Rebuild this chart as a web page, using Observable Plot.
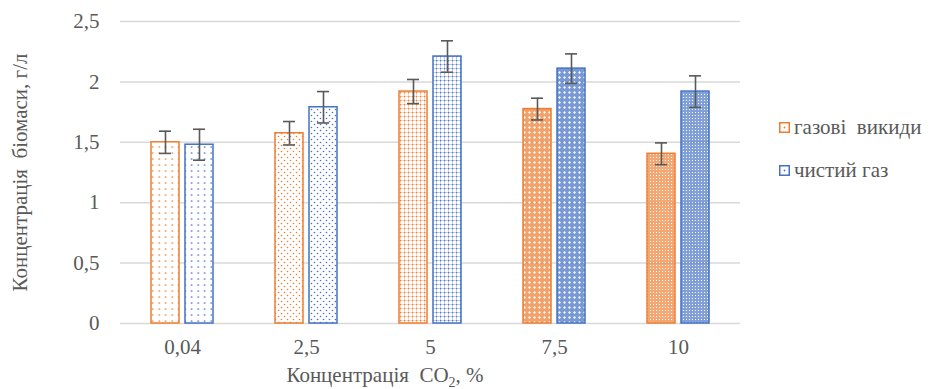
<!DOCTYPE html>
<html>
<head>
<meta charset="utf-8">
<script src="https://cdn.jsdelivr.net/npm/d3@7"></script>
<script src="https://cdn.jsdelivr.net/npm/@observablehq/plot@0.6"></script>
<style>
  html, body { margin: 0; padding: 0; background: #fff; }
  #wrap { position: relative; width: 930px; height: 389px; font-family: "Liberation Serif", "DejaVu Serif", serif; color: #595959; }
  #chart { position: absolute; left: 0; top: 0; }
  .leg { position: absolute; left: 779px; font-size: 21px; line-height: 1; display: flex; align-items: center; white-space: pre; }
  .leg svg { margin-right: 4px; }
  #xtitle { position: absolute; top: 363px; left: 0; width: 770px; text-align: center; font-size: 21px; white-space: pre; }
</style>
</head>
<body>
<div id="wrap">
  <div id="chart"></div>
  <div class="leg" style="top:117px"><svg width="11" height="11"><rect x="0.75" y="0.75" width="9.5" height="9.5" fill="#fff" stroke="#ED7D31" stroke-width="1.5"/><circle cx="5.5" cy="5.5" r="0.9" fill="#ED7D31"/></svg><span>газові  викиди</span></div>
  <div class="leg" style="top:160px"><svg width="11" height="11"><rect x="0.75" y="0.75" width="9.5" height="9.5" fill="#fff" stroke="#4472C4" stroke-width="1.5"/><circle cx="5.5" cy="5.5" r="0.9" fill="#4472C4"/></svg><span>чистий газ</span></div>
  <div id="xtitle">Концентрація  CO<sub style="font-size:14px">2</sub>, %</div>
</div>
<script>
const categories = ["0,04", "2,5", "5", "7,5", "10"];
const seriesNames = ["газові викиди", "чистий газ"];
const seriesColors = ["#ED7D31", "#4472C4"];
const wasteGas = [1.50, 1.575, 1.92, 1.775, 1.405];
const wasteGasErr = [0.092, 0.097, 0.10, 0.09, 0.09];
const pureGas = [1.48, 1.79, 2.21, 2.11, 1.92];
const pureGasErr = [0.128, 0.13, 0.13, 0.122, 0.13];
const yTicks = [0, 0.5, 1, 1.5, 2, 2.5];

const rows = [];
categories.forEach((c, i) => {
  rows.push({cat: c, i, s: seriesNames[0], si: 0, v: wasteGas[i], e: wasteGasErr[i]});
  rows.push({cat: c, i, s: seriesNames[1], si: 1, v: pureGas[i], e: pureGasErr[i]});
});

const fmt = d => String(d).replace(".", ",");

const plot = Plot.plot({
  width: 930,
  height: 389,
  marginLeft: 120,
  marginRight: 190,
  marginTop: 21,
  marginBottom: 66,
  style: {fontFamily: "'Liberation Serif', 'DejaVu Serif', serif", fontSize: "21px", color: "#595959", background: "transparent"},
  fx: {domain: categories, padding: 0},
  x: {domain: seriesNames, paddingInner: 0.174, paddingOuter: 0.884, axis: null},
  y: {domain: [0, 2.5]},
  color: {type: "identity"},
  marks: [
    Plot.gridY(yTicks, {stroke: "#d9d9d9", strokeOpacity: 1, strokeWidth: 1.5}),
    Plot.axisY(yTicks, {tickSize: 0, tickPadding: 21, tickFormat: fmt, label: "Концентрація  біомаси, г/л", labelAnchor: "center", labelArrow: "none", labelOffset: 108}),
    Plot.axisFx({anchor: "bottom", tickSize: 0, tickPadding: 16, label: null}),
    Plot.barY(rows, {
      fx: "cat", x: "s", y: "v",
      fill: d => `url(#pat-${d.i}-${d.si})`,
      stroke: d => seriesColors[d.si],
      strokeWidth: 1.5
    }),
    Plot.ruleX(rows, {fx: "cat", x: "s", y1: d => d.v - d.e, y2: d => d.v + d.e, stroke: "#595959", strokeWidth: 1.6}),
    Plot.tickY(rows, {fx: "cat", x: "s", y: d => d.v + d.e, stroke: "#595959", strokeWidth: 1.6, inset: 8}),
    Plot.tickY(rows, {fx: "cat", x: "s", y: d => d.v - d.e, stroke: "#595959", strokeWidth: 1.6, inset: 8})
  ]
});

// pattern definitions for the bar fills
const ns = "http://www.w3.org/2000/svg";
const defs = document.createElementNS(ns, "defs");
function el(tag, attrs, parent) {
  const e = document.createElementNS(ns, tag);
  for (const k in attrs) e.setAttribute(k, attrs[k]);
  parent.appendChild(e);
  return e;
}
seriesColors.forEach((c, si) => {
  // 0: sparse dots
  let p = el("pattern", {id: `pat-0-${si}`, patternUnits: "userSpaceOnUse", width: 6.5, height: 6}, defs);
  el("rect", {width: 6.5, height: 6, fill: "#fff"}, p);
  el("circle", {cx: 3.2, cy: 3, r: 0.85, fill: c}, p);
  // 1: staggered dots
  p = el("pattern", {id: `pat-1-${si}`, patternUnits: "userSpaceOnUse", width: 6, height: 6}, defs);
  el("rect", {width: 6, height: 6, fill: "#fff"}, p);
  el("circle", {cx: 1.5, cy: 1.5, r: 0.8, fill: c}, p);
  el("circle", {cx: 4.5, cy: 4.5, r: 0.8, fill: c}, p);
  // 2: fine dotted grid
  p = el("pattern", {id: `pat-2-${si}`, patternUnits: "userSpaceOnUse", width: 4, height: 4}, defs);
  el("rect", {width: 4, height: 4, fill: "#fff"}, p);
  el("rect", {x: 0, y: 0, width: 4, height: 1, fill: c, "fill-opacity": 0.35}, p);
  el("rect", {x: 0, y: 0, width: 1, height: 4, fill: c, "fill-opacity": 0.35}, p);
  el("rect", {x: 0, y: 0, width: 1.2, height: 1.2, fill: c, "fill-opacity": 0.85}, p);
  // 3: diamond lattice
  p = el("pattern", {id: `pat-3-${si}`, patternUnits: "userSpaceOnUse", width: 5, height: 5}, defs);
  el("rect", {width: 5, height: 5, fill: c, "fill-opacity": 0.72}, p);
  el("path", {d: "M2.5,1 L4,2.5 L2.5,4 L1,2.5 Z", fill: "#fff", "fill-opacity": 0.9}, p);
  // 4: dense speckle
  p = el("pattern", {id: `pat-4-${si}`, patternUnits: "userSpaceOnUse", width: 3, height: 3}, defs);
  el("rect", {width: 3, height: 3, fill: c, "fill-opacity": 0.68}, p);
  el("rect", {x: 1, y: 1, width: 1, height: 1, fill: "#fff"}, p);
});
plot.insertBefore(defs, plot.firstChild);

document.getElementById("chart").appendChild(plot);
</script>
</body>
</html>
